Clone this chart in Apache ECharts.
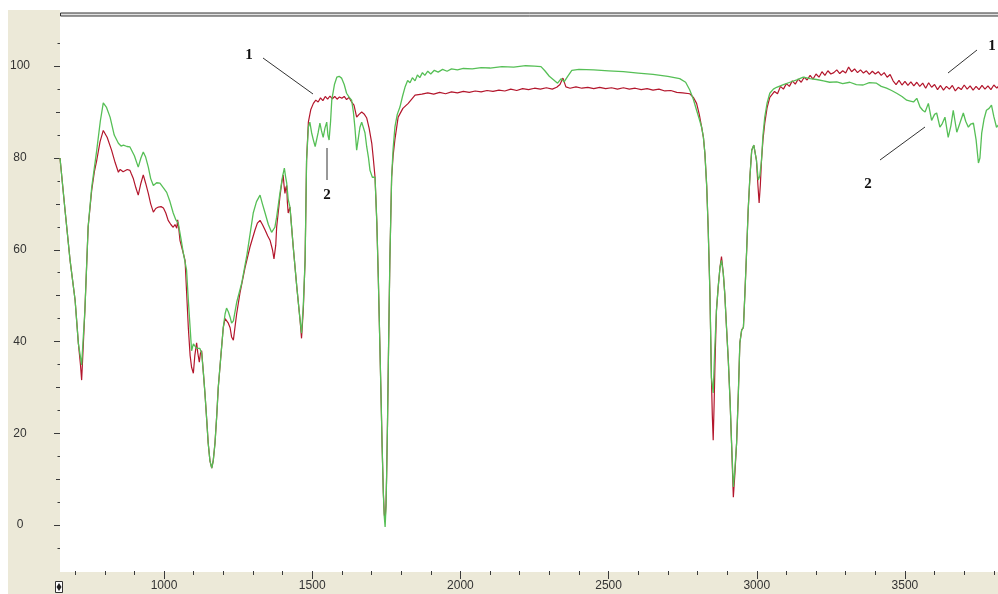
<!DOCTYPE html>
<html>
<head>
<meta charset="utf-8">
<script src="https://cdn.jsdelivr.net/npm/echarts@6/dist/echarts.min.js"></script>
<style>html,body{margin:0;padding:0;background:#fff;}#c{width:998px;height:594px;}</style>
</head>
<body>
<div id="c"></div>
<script>
// Spectrum 1 (red): [wavenumber, transmittance]
const spectrum1 = [[649,80],[666,68.6],[683,57.7],[700,49],[711,39.6],[718,35],[722,31.6],[726,37],[733,46.8],[744,65],[756,73],[765,77],[773,79.5],[784,83.5],[795,86],[808,84.5],[823,81.7],[835,79],[846,76.9],[852,77.5],[857,77.8],[862,77],[868,76.7],[876,77.5],[885,77.3],[890,76.5],[896,75.6],[905,73.5],[913,71.9],[922,74.5],[930,76.3],[938,74.5],[947,72.3],[955,70],[964,68.2],[972,69],[981,69.3],[990,69.4],[998,69.1],[1006,68],[1014,66.4],[1023,65.5],[1031,64.9],[1037,65.5],[1043,64.7],[1046,66.5],[1050,64.5],[1054,62],[1062,60],[1071,57.7],[1076,51],[1082,43],[1088,37],[1093,34.4],[1099,33.1],[1104,37],[1110,39.7],[1114,37.5],[1119,35.5],[1123,37.5],[1127,38],[1133,33],[1138,28.8],[1144,23],[1149,17.9],[1155,14],[1161,12.4],[1166,14],[1172,17.9],[1178,24],[1183,30],[1192,37],[1200,43.1],[1206,45],[1211,45.2],[1217,44],[1223,43],[1228,41],[1234,40.3],[1245,46],[1256,50.5],[1273,56],[1290,60.6],[1307,64.3],[1315,65.8],[1324,66.4],[1332,65.5],[1341,64.3],[1350,63],[1358,62],[1366,60],[1371,58],[1374,57.7],[1377,61],[1380,64.9],[1386,68.5],[1391,71.5],[1397,74.5],[1402,76.3],[1405,74],[1408,72.3],[1411,73.5],[1414,74],[1416,70.5],[1419,68],[1425,69.3],[1436,60.6],[1448,51.9],[1459,44.7],[1464,40.7],[1470,47],[1476,57.7],[1481,79.5],[1487,87.8],[1495,90.5],[1504,91.9],[1512,92.6],[1520,92.2],[1528,93.1],[1536,92.5],[1544,93.4],[1552,92.8],[1560,93.5],[1568,92.9],[1576,93.4],[1584,92.8],[1592,93.3],[1600,93.0],[1608,93.4],[1616,92.7],[1624,93.2],[1633,92.2],[1641,91.5],[1650,88.9],[1658,89.5],[1667,90],[1675,89.6],[1684,88.7],[1692,86.5],[1701,83.2],[1706,80],[1712,75.8],[1718,66],[1723,54],[1728,40],[1732,28.8],[1736,17],[1740,7],[1743,2.5],[1746,1],[1749,4.5],[1751,10.5],[1754,22],[1757,35.9],[1762,57.7],[1768,75.8],[1773,80.5],[1779,84],[1790,88.9],[1806,90.8],[1824,91.9],[1847,93.7],[1870,93.9],[1890,94.2],[1910,93.9],[1930,94.3],[1950,94.0],[1970,94.4],[1990,94.2],[2010,94.5],[2030,94.3],[2050,94.6],[2070,94.4],[2090,94.7],[2110,94.5],[2130,94.8],[2150,94.6],[2170,95.0],[2190,94.7],[2210,95.1],[2230,94.9],[2250,95.2],[2270,95.0],[2290,95.3],[2310,95.0],[2325,95.4],[2336,96.0],[2346,97.4],[2356,95.5],[2370,95.2],[2390,95.5],[2410,95.2],[2430,95.4],[2450,95.1],[2470,95.4],[2490,95.1],[2510,95.3],[2530,95.0],[2550,95.3],[2570,95.0],[2590,95.2],[2610,94.9],[2630,95.1],[2650,94.8],[2670,95.0],[2690,94.6],[2710,94.7],[2730,94.3],[2750,94.2],[2774,94.0],[2786,93.2],[2797,91.9],[2806,89.5],[2814,86.7],[2820,84.5],[2825,81],[2831,74],[2836,64.9],[2842,50.5],[2847,32.2],[2850,24],[2853,18.5],[2856,26],[2859,35],[2864,46.8],[2870,52],[2876,56.2],[2881,58.5],[2887,54.9],[2892,50.5],[2898,43],[2904,35.9],[2910,27],[2915,17.9],[2921,6.1],[2926,11],[2932,17.9],[2938,29],[2943,39.7],[2949,42.5],[2955,43.1],[2960,50.5],[2966,60],[2971,68.6],[2977,76],[2983,81.7],[2990,82.8],[2999,79.5],[3004,74],[3008,70.2],[3012,74],[3016,79.5],[3021,84],[3027,87.6],[3035,91],[3044,93.2],[3060,94.5],[3070,94.0],[3080,95.6],[3090,95.0],[3100,96.2],[3110,95.6],[3120,96.8],[3130,96.1],[3140,97.2],[3150,96.5],[3160,97.6],[3170,97.0],[3180,98.0],[3190,97.2],[3200,98.3],[3210,97.6],[3220,98.8],[3230,98.0],[3240,99.0],[3250,98.3],[3260,98.6],[3270,99.2],[3280,98.4],[3290,99.0],[3300,98.5],[3310,99.8],[3320,98.8],[3330,99.4],[3340,98.6],[3350,99.2],[3360,98.5],[3370,99.0],[3380,98.2],[3390,98.9],[3400,98.3],[3410,98.8],[3420,98.0],[3430,98.6],[3440,97.6],[3450,98.2],[3460,96.8],[3470,96.0],[3480,96.9],[3490,95.9],[3500,96.7],[3510,95.8],[3520,96.6],[3530,95.7],[3540,96.5],[3550,95.6],[3560,96.3],[3570,95.2],[3580,96.4],[3590,95.4],[3600,96.0],[3610,94.9],[3620,95.8],[3630,94.8],[3640,95.6],[3650,95.0],[3660,95.8],[3670,94.6],[3680,95.4],[3690,94.9],[3700,95.9],[3710,95.0],[3720,95.7],[3730,94.8],[3740,95.6],[3750,94.9],[3760,95.8],[3770,95.0],[3780,95.7],[3790,94.9],[3800,95.9],[3810,95.2],[3820,96.0],[3830,95.3]];

// Spectrum 2 (green): [wavenumber, transmittance]
const spectrum2 = [[649,80],[666,68.6],[683,57.7],[700,49],[711,39.6],[722,34.9],[733,46.8],[744,65],[756,73.6],[773,81.7],[785,88],[795,92],[806,91],[818,88.9],[832,85],[846,83.2],[855,82.6],[863,82.8],[875,82.5],[885,82.4],[900,80.5],[913,78],[922,80],[930,81.3],[938,80.2],[947,78],[955,75.5],[964,74],[975,74.6],[986,74.5],[998,73.5],[1009,72.5],[1020,70.5],[1031,68],[1040,66.5],[1048,65.8],[1057,62.5],[1065,59.3],[1076,55.6],[1082,49],[1088,43.1],[1093,38],[1099,39.5],[1104,39.7],[1110,38.5],[1116,38.8],[1121,38.5],[1127,37.5],[1133,33],[1138,28.8],[1144,23],[1149,17.9],[1155,14],[1161,12.4],[1166,14],[1172,17.9],[1178,24],[1183,30],[1192,37],[1200,43.1],[1206,46],[1211,47.3],[1217,46.5],[1223,45.3],[1228,44],[1234,44.5],[1245,48.5],[1262,52.7],[1280,59],[1301,68],[1312,70.5],[1324,71.9],[1332,70],[1341,68],[1352,65.5],[1363,63.8],[1374,64.9],[1380,67.1],[1391,72.3],[1400,76],[1406,77.8],[1410,76],[1414,74.5],[1419,71],[1425,69.3],[1436,60.6],[1448,51.9],[1459,44.7],[1464,41.8],[1470,48],[1476,57.7],[1481,79.5],[1487,86.7],[1492,87.8],[1498,85.5],[1504,83.9],[1510,82.5],[1515,82.8],[1520,85.5],[1526,87.6],[1531,86],[1537,84.5],[1543,86.5],[1549,87.8],[1553,85],[1557,83.9],[1562,88],[1566,92.6],[1575,96],[1583,97.6],[1591,97.8],[1599,97.4],[1608,96],[1616,94.1],[1625,93.2],[1633,92.6],[1639,90],[1644,86.7],[1650,81.7],[1655,84],[1661,86.7],[1667,87.8],[1672,87.6],[1678,85.5],[1684,82.4],[1690,80],[1695,77.3],[1703,75.8],[1712,75.8],[1718,66],[1723,54],[1728,40],[1732,28.8],[1736,17],[1740,7],[1743,2],[1746,-0.4],[1749,4],[1751,10.5],[1754,22],[1757,35.9],[1762,57.7],[1768,75.8],[1773,82],[1779,86.7],[1787,89.5],[1796,91.1],[1805,93.5],[1813,95.4],[1822,96.9],[1830,96.4],[1838,97.5],[1847,96.8],[1855,98.1],[1863,97.5],[1872,98.6],[1880,98.0],[1890,98.9],[1900,98.3],[1912,99.1],[1925,98.7],[1940,99.3],[1955,98.9],[1970,99.4],[1990,99.2],[2010,99.5],[2040,99.4],[2070,99.7],[2100,99.6],[2140,99.9],[2180,99.8],[2220,100.1],[2250,100.0],[2272,99.9],[2285,99.0],[2300,97.8],[2315,97.0],[2328,96.3],[2340,97.3],[2350,96.6],[2362,97.8],[2376,99.1],[2400,99.3],[2450,99.2],[2500,99.0],[2550,98.8],[2600,98.5],[2650,98.2],[2700,97.8],[2740,97.3],[2760,96.5],[2774,94.8],[2786,92.8],[2797,90.4],[2806,88.5],[2814,86.7],[2820,84.5],[2825,81],[2831,74],[2836,64.9],[2842,50.5],[2847,32.2],[2853,28.8],[2858,38],[2864,46.8],[2870,52],[2876,56.2],[2881,57.7],[2887,54.9],[2892,50.5],[2898,43],[2904,35.9],[2910,27],[2915,17.9],[2921,8.3],[2926,12],[2932,17.9],[2938,29],[2943,39.7],[2949,42.5],[2955,43.1],[2960,50.5],[2966,60],[2971,68.6],[2977,76],[2983,81.7],[2990,82.8],[2999,79.5],[3005,75.2],[3010,76],[3016,79.5],[3021,85],[3027,88.9],[3035,92],[3044,94.1],[3056,95],[3067,95.4],[3090,96.0],[3112,96.5],[3135,97.0],[3157,97.6],[3180,97.3],[3202,97.1],[3225,96.8],[3246,96.5],[3270,96.6],[3290,96.2],[3314,96.5],[3336,96.0],[3359,95.9],[3380,96.4],[3404,96.3],[3420,95.6],[3438,95.2],[3455,94.7],[3472,94.1],[3490,93.4],[3506,92.6],[3518,92.4],[3529,92.2],[3540,93],[3551,91.1],[3560,90.4],[3568,90],[3579,91.9],[3590,88.2],[3600,89.5],[3607,89.8],[3618,86.7],[3626,87.5],[3635,88.9],[3646,84.5],[3655,87],[3663,90.4],[3675,85.6],[3685,87.5],[3697,89.8],[3705,88],[3714,86.7],[3722,87.4],[3731,87.6],[3740,84],[3748,78.9],[3753,80],[3759,85.4],[3767,88.5],[3775,90.4],[3784,90.8],[3792,91.5],[3800,89],[3809,86.7],[3820,87.5],[3830,88]];

const xMinorTicks = [700,800,900,1000,1100,1200,1300,1400,1500,1600,1700,1800,1900,2000,2100,2200,2300,2400,2500,2600,2700,2800,2900,3000,3100,3200,3300,3400,3500,3600,3700,3800];
const xLabels = [1000,1500,2000,2500,3000,3500];
const yMinorTicks = [-5,0,5,10,15,20,25,30,35,40,45,50,55,60,65,70,75,80,85,90,95,100,105];
const yMidTicks = [0,10,20,30,40,50,60,70,80,90,100];
const yLabels = [0,20,40,60,80,100];

const X_MIN = 649, X_MAX = 3814, Y_MIN = -10, Y_MAX = 110.5;
const beige = '#ECE9D8';
const tickColor = '#3a3a3a';
const labelFont = {color:'#333', fontFamily:'Liberation Sans', fontSize:12};
const plain = v => String(Math.round(v));

const chart = echarts.init(document.getElementById('c'), null, {renderer:'canvas'});
const baseX = {type:'value', min:X_MIN, max:X_MAX, position:'bottom', axisLine:{show:false, onZero:false}, splitLine:{show:false}};
const baseY = {type:'value', min:Y_MIN, max:Y_MAX, position:'left', axisLine:{show:false, onZero:false}, splitLine:{show:false}};

chart.setOption({
  animation:false,
  backgroundColor:'#fff',
  grid:{left:60, right:0, top:18, bottom:23, containLabel:false},
  xAxis:[
    Object.assign({}, baseX, {axisTick:{show:true, inside:false, length:4, customValues:xMinorTicks, lineStyle:{color:tickColor,width:1}},
      axisLabel:Object.assign({show:true, margin:9, customValues:xLabels, formatter:plain}, labelFont)}),
    Object.assign({}, baseX, {axisTick:{show:true, inside:false, length:8, customValues:xLabels, lineStyle:{color:tickColor,width:1}},
      axisLabel:{show:false}})
  ],
  yAxis:[
    Object.assign({}, baseY, {axisTick:{show:true, inside:false, length:2.5, customValues:yMinorTicks, lineStyle:{color:tickColor,width:1}},
      axisLabel:Object.assign({show:true, margin:40, align:'center', customValues:yLabels, formatter:plain}, labelFont)}),
    Object.assign({}, baseY, {axisTick:{show:true, inside:false, length:4, customValues:yMidTicks, lineStyle:{color:tickColor,width:1}},
      axisLabel:{show:false}}),
    Object.assign({}, baseY, {axisTick:{show:true, inside:false, length:6, customValues:yLabels, lineStyle:{color:tickColor,width:1}},
      axisLabel:{show:false}})
  ],
  series:[
    {name:'1', type:'line', data:spectrum1, showSymbol:false, symbol:'none', lineStyle:{color:'#b3162c', width:1.2}, z:2},
    {name:'2', type:'line', data:spectrum2, showSymbol:false, symbol:'none', lineStyle:{color:'#56bf56', width:1.3}, z:3}
  ],
  graphic:[
    {type:'rect', z:-1, shape:{x:8, y:10, width:52, height:584}, style:{fill:beige}, silent:true},
    {type:'rect', z:-1, shape:{x:8, y:572, width:990, height:22}, style:{fill:beige}, silent:true},
    {type:'rect', z:50, shape:{x:60.5, y:13, width:940, height:3}, style:{fill:'#e2e2e2', stroke:'#333', lineWidth:1}, silent:true},
    {type:'rect', z:50, shape:{x:55.5, y:581.5, width:7, height:11}, style:{fill:'#fff', stroke:'#333', lineWidth:1}, silent:true},
    {type:'polygon', z:51, shape:{points:[[59,583],[61.5,587],[59,591],[56.5,587]]}, style:{fill:'#222'}, silent:true},
    {type:'line', z:60, shape:{x1:263, y1:58, x2:313, y2:94}, style:{stroke:'#333', lineWidth:1}},
    {type:'line', z:60, shape:{x1:327, y1:148, x2:327, y2:180}, style:{stroke:'#333', lineWidth:1}},
    {type:'line', z:60, shape:{x1:977, y1:50, x2:948, y2:73}, style:{stroke:'#333', lineWidth:1}},
    {type:'line', z:60, shape:{x1:880, y1:160, x2:925, y2:127}, style:{stroke:'#333', lineWidth:1}},
    {type:'text', z:60, x:249, y:55, style:{text:'1', fill:'#111', font:'bold 15px "Liberation Serif"', align:'center', verticalAlign:'middle'}},
    {type:'text', z:60, x:327, y:195, style:{text:'2', fill:'#111', font:'bold 15px "Liberation Serif"', align:'center', verticalAlign:'middle'}},
    {type:'text', z:60, x:992, y:46, style:{text:'1', fill:'#111', font:'bold 15px "Liberation Serif"', align:'center', verticalAlign:'middle'}},
    {type:'text', z:60, x:868, y:184, style:{text:'2', fill:'#111', font:'bold 15px "Liberation Serif"', align:'center', verticalAlign:'middle'}}
  ]
});
</script>
</body>
</html>
